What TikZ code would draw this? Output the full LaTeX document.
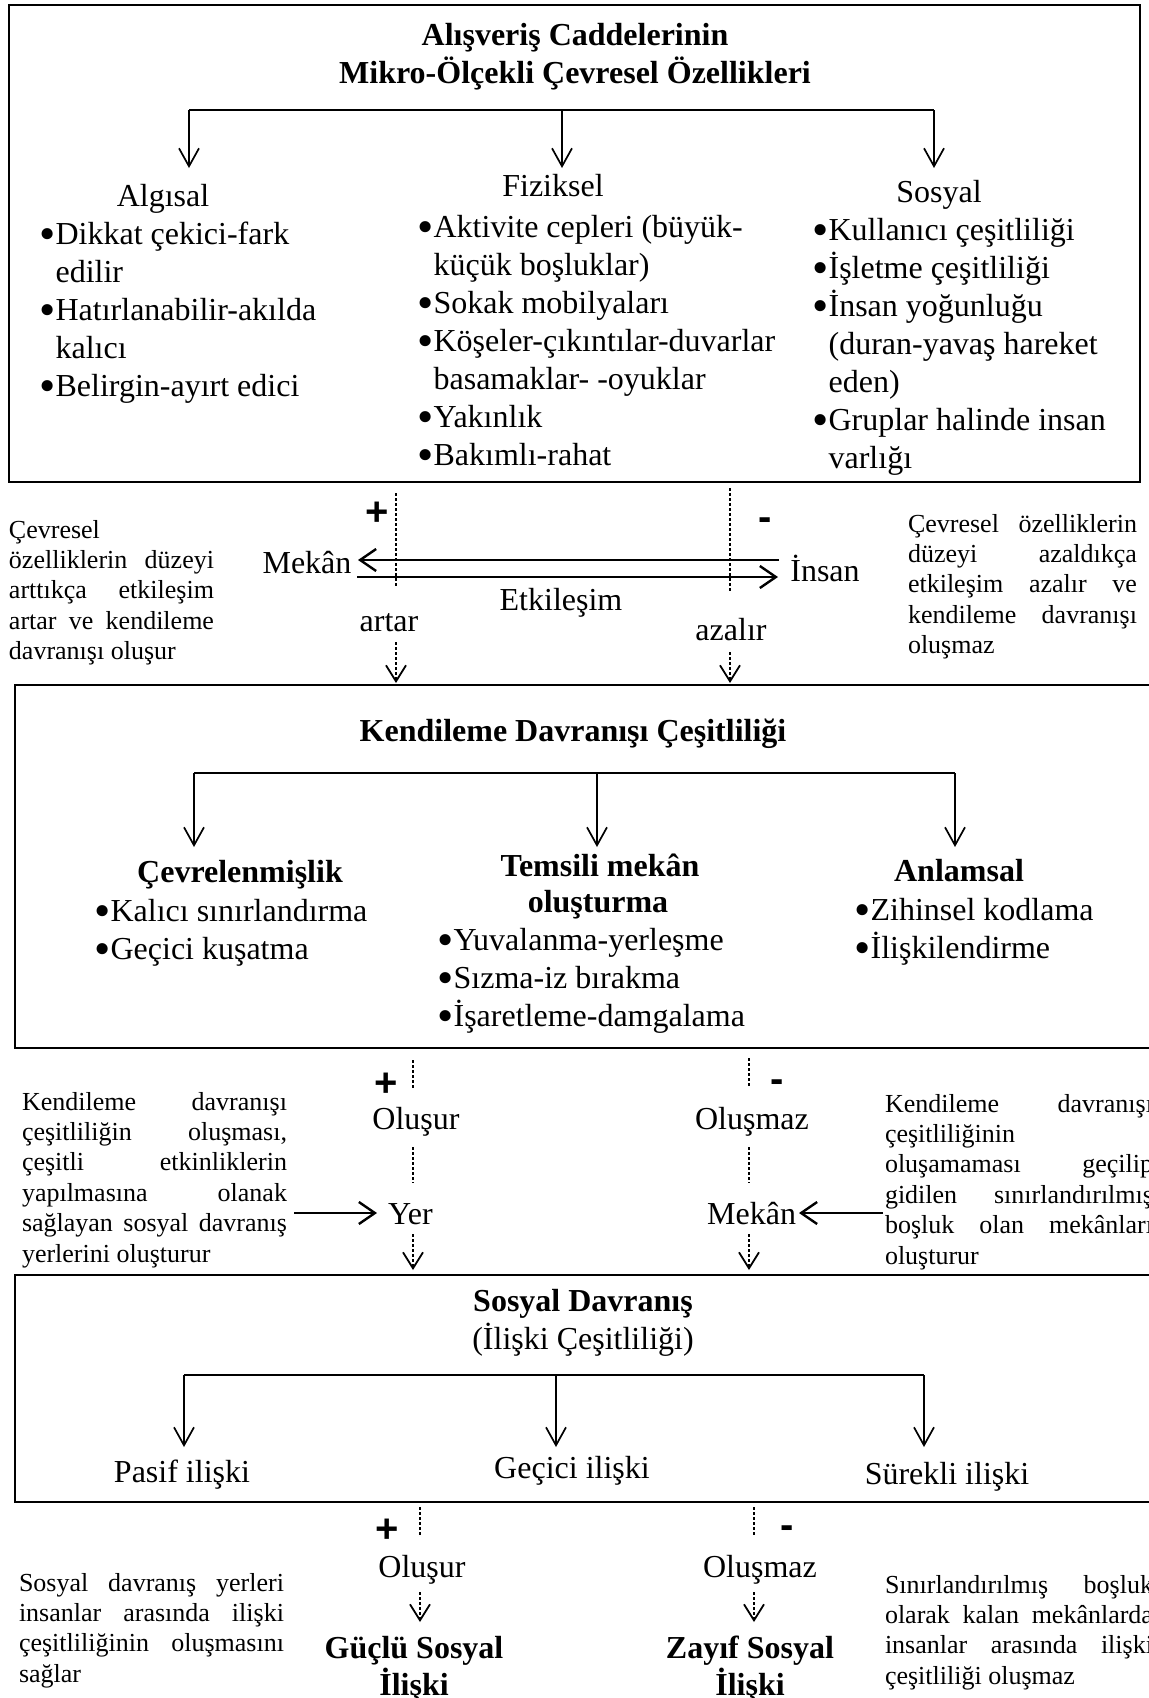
\documentclass[tikz,border=0pt]{standalone}
\usepackage{fontspec}
\setmainfont{Liberation Serif}
\newfontfamily\signfont{Liberation Sans}
\usetikzlibrary{arrows.meta}
\newcommand\jl[1]{\makebox[\linewidth][s]{#1}}
\newcommand\bul{\makebox[7.3pt][l]{\hspace{-0.9pt}\raisebox{-2.6pt}{\scalebox{1.45}{•}}}}
\newcommand\blist[1]{\begin{tabular}[t]{@{}l@{}l@{}}#1\end{tabular}}
\newcommand\notebox[2]{\parbox[t]{#1}{\fontsize{13}{15.2}\selectfont #2}}
\begin{document}
\begin{tikzpicture}[x=0.5pt,y=-0.5pt,
  every node/.style={inner sep=0pt, outer sep=0pt},
  main/.style={font=\fontsize{16}{19}\selectfont},
  ttl/.style={font=\fontsize{16}{19}\selectfont\bfseries},
  side/.style={font=\fontsize{13}{15.2}\selectfont},
  sign/.style={font=\signfont\bfseries\fontsize{20}{20}\selectfont},
  frame/.style={draw, line width=1.2pt},
  brk/.style={line width=1.1pt},
  darr/.style={line width=0.85pt, -{Straight Barb[length=9pt,width=10pt,line width=0.85pt]}},
  harr/.style={line width=1.4pt, -{Straight Barb[length=8pt,width=11pt,line width=1.2pt]}},
  dots/.style={line width=1pt, dash pattern=on 1.5pt off 1pt},
  dotarr/.style={dots, -{Straight Barb[length=8pt,width=10pt,line width=0.9pt]}}
]
\useasboundingbox (0,0) rectangle (1148,1698);
\fill[white] (0,0) rectangle (1148,1698);

% ---------------- Box 1
\draw[frame] (9,5) rectangle (1140,482);
\node[ttl, anchor=base] (t1a) at (575,45) {Alışveriş Caddelerinin};
\node[ttl, anchor=base] (t1b) at (575,83) {Mikro-Ölçekli Çevresel Özellikleri};
\coordinate (b1l) at (189,110); \coordinate (b1m) at (562,110); \coordinate (b1r) at (934,110);
\coordinate (e1l) at (189,168); \coordinate (e1m) at (562,168); \coordinate (e1r) at (934,168);
\draw[brk] (b1l) -- (b1r);
\draw[darr] (b1l) -- (e1l);
\draw[darr] (b1m) -- (e1m);
\draw[darr] (b1r) -- (e1r);
\node[main, anchor=base] (alg) at (163,206) {Algısal};
\node[main, anchor=base] (fiz) at (553,196) {Fiziksel};
\node[main, anchor=base] (sos) at (939,202) {Sosyal};
\node[main, anchor=base west] (algl) at (41,244) {\blist{\bul & Dikkat çekici-fark\\ & edilir\\ \bul & Hatırlanabilir-akılda\\ & kalıcı\\ \bul & Belirgin-ayırt edici}};
\node[main, anchor=base west] (fizl) at (419,237) {\blist{\bul & Aktivite cepleri (büyük-\\ & küçük boşluklar)\\ \bul & Sokak mobilyaları\\ \bul & Köşeler-çıkıntılar-duvarlar\\ & basamaklar- -oyuklar\\ \bul & Yakınlık\\ \bul & Bakımlı-rahat}};
\node[main, anchor=base west] (sosl) at (814,240) {\blist{\bul & Kullanıcı çeşitliliği\\ \bul & İşletme çeşitliliği\\ \bul & İnsan yoğunluğu\\ & (duran-yavaş hareket\\ & eden)\\ \bul & Gruplar halinde insan\\ & varlığı}};

% ---------------- Middle 1
\node[sign] (p1) at (377,514) {+};
\node[sign] (m1) at (765,524) {-};
\coordinate (d1a) at (396,493); \coordinate (d1b) at (396,588);
\coordinate (d1c) at (396,642); \coordinate (d1d) at (396,683);
\coordinate (d2a) at (730,488); \coordinate (d2b) at (730,592);
\coordinate (d2c) at (730,652); \coordinate (d2d) at (730,683);
\draw[dots] (d1a) -- (d1b);
\draw[dotarr] (d1c) -- (d1d);
\draw[dots] (d2a) -- (d2b);
\draw[dotarr] (d2c) -- (d2d);
\node[main, anchor=base] (mekan1) at (307,573) {Mekân};
\node[main, anchor=base] (insan1) at (825,581) {İnsan};
\coordinate (h1a) at (779,560); \coordinate (h1b) at (358,560);
\coordinate (h2a) at (357,577); \coordinate (h2b) at (778,577);
\draw[harr] (h1a) -- (h1b);
\draw[harr] (h2a) -- (h2b);
\node[main, anchor=base] (etk) at (561,610) {Etkileşim};
\node[main, anchor=base] (artar) at (389,631) {artar};
\node[main, anchor=base] (azalir) at (731,640) {azalır};
\node[side, anchor=base west] (n1l) at (9,538) {\notebox{102.5pt}{Çevresel\\ \jl{özelliklerin düzeyi}\\ \jl{arttıkça etkileşim}\\ \jl{artar ve kendileme}\\ davranışı oluşur}};
\node[side, anchor=base west] (n1r) at (908,532) {\notebox{114.5pt}{\jl{Çevresel özelliklerin}\\ \jl{düzeyi azaldıkça}\\ \jl{etkileşim azalır ve}\\ \jl{kendileme davranışı}\\ oluşmaz}};

% ---------------- Box 2
\draw[frame] (15,685) rectangle (1156,1048);
\node[ttl, anchor=base] (t2) at (573,741) {Kendileme Davranışı Çeşitliliği};
\coordinate (b2l) at (194,773); \coordinate (b2m) at (597,773); \coordinate (b2r) at (955,773);
\coordinate (e2l) at (194,847); \coordinate (e2m) at (597,847); \coordinate (e2r) at (955,847);
\draw[brk] (b2l) -- (b2r);
\draw[darr] (b2l) -- (e2l);
\draw[darr] (b2m) -- (e2m);
\draw[darr] (b2r) -- (e2r);
\node[ttl, anchor=base] (cev) at (240,882) {Çevrelenmişlik};
\node[main, anchor=base west] (cevl) at (96,921) {\blist{\bul & Kalıcı sınırlandırma\\ \bul & Geçici kuşatma}};
\node[ttl, anchor=base] (tem1) at (600,876) {Temsili mekân};
\node[ttl, anchor=base] (tem2) at (598,912) {oluşturma};
\node[main, anchor=base west] (teml) at (439,950) {\blist{\bul & Yuvalanma-yerleşme\\ \bul & Sızma-iz bırakma\\ \bul & İşaretleme-damgalama}};
\node[ttl, anchor=base] (anl) at (959,881) {Anlamsal};
\node[main, anchor=base west] (anll) at (856,920) {\blist{\bul & Zihinsel kodlama\\ \bul & İlişkilendirme}};

% ---------------- Middle 2
\node[sign] (p2) at (386,1085) {+};
\node[sign] (m2) at (777,1086) {-};
\coordinate (d3a) at (413,1060); \coordinate (d3b) at (413,1088);
\coordinate (d3c) at (413,1147); \coordinate (d3d) at (413,1183);
\coordinate (d3e) at (413,1234); \coordinate (d3f) at (413,1270);
\coordinate (d4a) at (749,1058); \coordinate (d4b) at (749,1087);
\coordinate (d4c) at (749,1147); \coordinate (d4d) at (749,1183);
\coordinate (d4e) at (749,1234); \coordinate (d4f) at (749,1270);
\draw[dots] (d3a) -- (d3b);
\draw[dots] (d3c) -- (d3d);
\draw[dotarr] (d3e) -- (d3f);
\draw[dots] (d4a) -- (d4b);
\draw[dots] (d4c) -- (d4d);
\draw[dotarr] (d4e) -- (d4f);
\node[main, anchor=base] (olu2) at (416,1129) {Oluşur};
\node[main, anchor=base] (olm2) at (752,1129) {Oluşmaz};
\node[main, anchor=base west] (yer) at (388,1224) {Yer};
\node[main, anchor=base east] (mekan2) at (796,1224) {Mekân};
\coordinate (h3a) at (294,1213);
\coordinate (h4a) at (883,1213);
\draw[harr] (h3a) -- ([xshift=-5.5pt]yer.west |- h3a);
\draw[harr] (h4a) -- ([xshift=1.5pt]mekan2.east |- h4a);
\node[side, anchor=base west] (n2l) at (22,1110) {\notebox{132.5pt}{\jl{Kendileme davranışı}\\ \jl{çeşitliliğin oluşması,}\\ \jl{çeşitli etkinliklerin}\\ \jl{yapılmasına olanak}\\ \jl{sağlayan sosyal davranış}\\ yerlerini oluşturur}};
\node[side, anchor=base west] (n2r) at (885,1112) {\notebox{134pt}{\jl{Kendileme davranışı}\\ çeşitliliğinin\\ \jl{oluşamaması geçilip}\\ \jl{gidilen sınırlandırılmış}\\ \jl{boşluk olan mekânları}\\ oluşturur}};

% ---------------- Box 3
\draw[frame] (15,1275) rectangle (1156,1502);
\node[ttl, anchor=base] (t3) at (583,1311) {Sosyal Davranış};
\node[main, anchor=base] (t3b) at (583,1349) {(İlişki Çeşitliliği)};
\coordinate (b3l) at (184,1375); \coordinate (b3m) at (556,1375); \coordinate (b3r) at (924,1375);
\coordinate (e3l) at (184,1447); \coordinate (e3m) at (556,1447); \coordinate (e3r) at (924,1447);
\draw[brk] (b3l) -- (b3r);
\draw[darr] (b3l) -- (e3l);
\draw[darr] (b3m) -- (e3m);
\draw[darr] (b3r) -- (e3r);
\node[main, anchor=base] (pas) at (182,1482) {Pasif ilişki};
\node[main, anchor=base] (gec) at (572,1478) {Geçici ilişki};
\node[main, anchor=base] (sur) at (947,1484) {Sürekli ilişki};

% ---------------- Bottom
\node[sign] (p3) at (387,1531) {+};
\node[sign] (m3) at (787,1532) {-};
\coordinate (d5a) at (420,1507); \coordinate (d5b) at (420,1536);
\coordinate (d5c) at (420,1592); \coordinate (d5d) at (420,1622);
\coordinate (d6a) at (754,1507); \coordinate (d6b) at (754,1536);
\coordinate (d6c) at (754,1592); \coordinate (d6d) at (754,1622);
\draw[dots] (d5a) -- (d5b);
\draw[dotarr] (d5c) -- (d5d);
\draw[dots] (d6a) -- (d6b);
\draw[dotarr] (d6c) -- (d6d);
\node[main, anchor=base] (olu3) at (422,1577) {Oluşur};
\node[main, anchor=base] (olm3) at (760,1577) {Oluşmaz};
\node[ttl, anchor=base] (guc1) at (414,1658) {Güçlü Sosyal};
\node[ttl, anchor=base] (guc2) at (414,1695) {İlişki};
\node[ttl, anchor=base] (zay1) at (750,1658) {Zayıf Sosyal};
\node[ttl, anchor=base] (zay2) at (750,1695) {İlişki};
\node[side, anchor=base west] (n3l) at (19,1591) {\notebox{132.5pt}{\jl{Sosyal davranış yerleri}\\ \jl{insanlar arasında ilişki}\\ \jl{çeşitliliğinin oluşmasını}\\ sağlar}};
\node[side, anchor=base west] (n3r) at (885,1593) {\notebox{134pt}{\jl{Sınırlandırılmış boşluk}\\ \jl{olarak kalan mekânlarda}\\ \jl{insanlar arasında ilişki}\\ çeşitliliği oluşmaz}};
\end{tikzpicture}
\end{document}
